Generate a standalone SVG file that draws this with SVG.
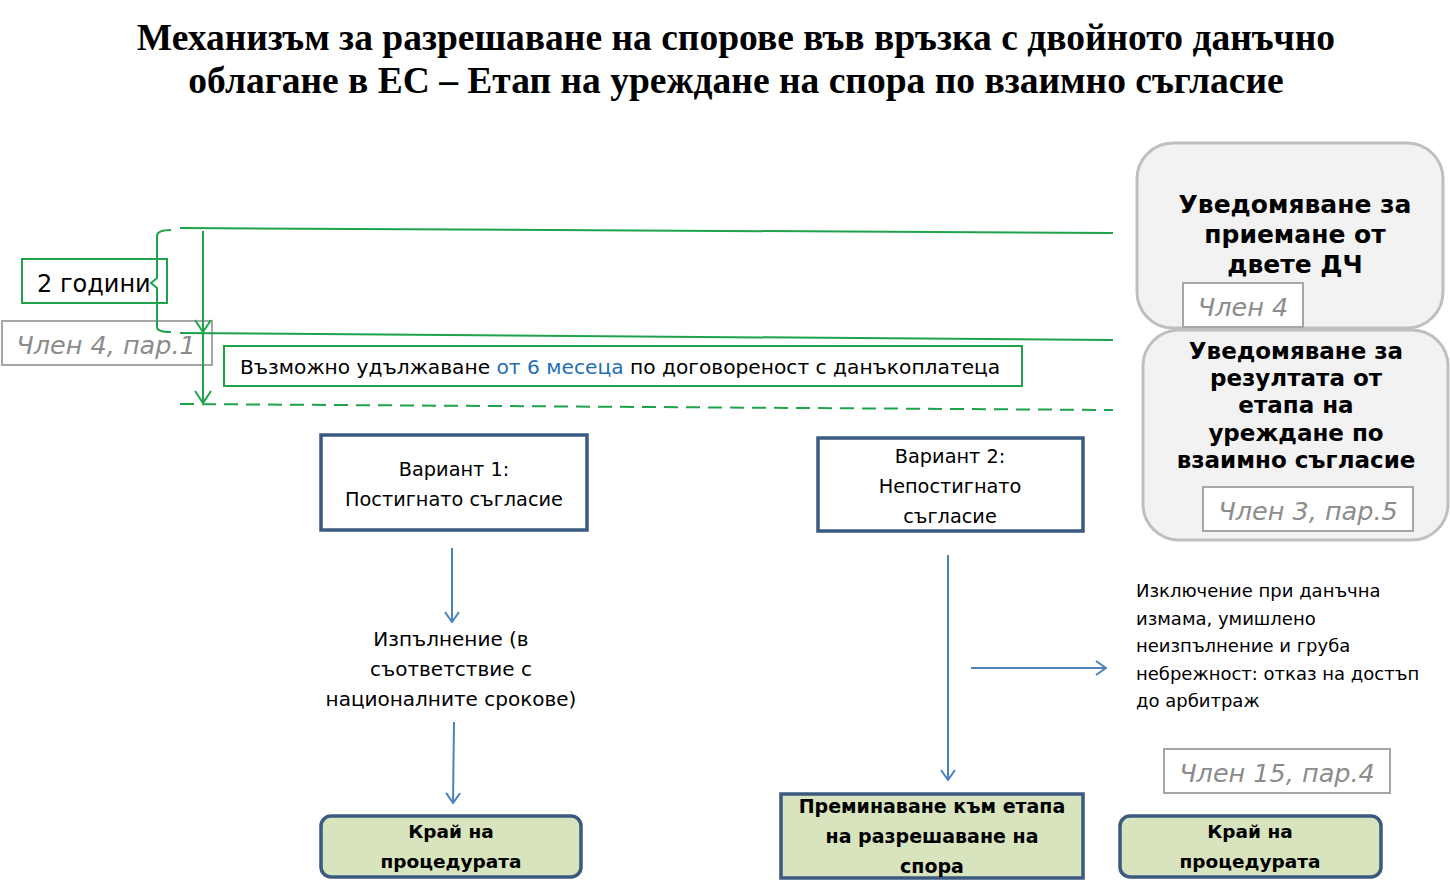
<svg xmlns="http://www.w3.org/2000/svg" width="1450" height="896" viewBox="0 0 1450 896">
<defs>
<style>
.title{font-family:"Liberation Serif","Times New Roman",serif;font-weight:bold;font-size:37.5px;fill:#000;text-anchor:middle}
.t{font-family:"DejaVu Sans",Verdana,sans-serif;fill:#000}
.ref{font-family:"DejaVu Sans",Verdana,sans-serif;font-style:italic;fill:#8c8c8c;font-size:25.5px;text-anchor:middle}
.refbox{fill:#fff;stroke:#a6a6a6;stroke-width:2}
.gbox{fill:#fff;stroke:#1ea34a;stroke-width:2}
.gline{stroke:#1ea34a;stroke-width:2;fill:none}
.grey{fill:#f2f2f2;stroke:#bfbfbf;stroke-width:3}
.var{fill:#fff;stroke:#3a5a80;stroke-width:3.5}
.end{fill:#d7e4bd;stroke:#3a5a80;stroke-width:3.5}
.conn{stroke:#4f81bd;stroke-width:2;fill:none}
.c{text-anchor:middle}
.b{font-weight:bold}
</style>
<marker id="ah" viewBox="0 0 12 16" refX="11" refY="8" markerWidth="12" markerHeight="16" markerUnits="userSpaceOnUse" orient="auto">
<path d="M1,1 L11,8 L1,15" fill="none" stroke="#4f81bd" stroke-width="2"/>
</marker>
<marker id="gh" viewBox="0 0 14 18" refX="13" refY="9" markerWidth="14" markerHeight="18" markerUnits="userSpaceOnUse" orient="auto">
<path d="M1,1 L13,9 L1,17" fill="none" stroke="#1ea34a" stroke-width="2"/>
</marker>
</defs>
<rect width="1450" height="896" fill="#fff"/>

<g id="title">
<text class="title" x="736" y="50">Механизъм за разрешаване на спорове във връзка с двойното данъчно</text>
<text class="title" x="736" y="93">облагане в ЕС – Етап на уреждане на спора по взаимно съгласие</text>
</g>

<g id="two-years">
<rect class="gbox" x="22" y="259" width="145" height="44"/>
<text class="t" x="37" y="292" font-size="24">2 години</text>
</g>

<g id="ref-art4-par1">
<rect class="refbox" x="2" y="321" width="210" height="44"/>
<text class="ref" x="106" y="354">Член 4, пар.1</text>
</g>

<g id="extension">
<rect class="gbox" x="224" y="346" width="798" height="40"/>
<text class="t" x="240" y="374" font-size="20.2">Възможно удължаване <tspan fill="#1f6fb5">от 6 месеца</tspan> по договореност с данъкоплатеца</text>
</g>

<g id="timeline">
<line class="gline" x1="180" y1="228" x2="1113" y2="233"/>
<line class="gline" x1="180" y1="333" x2="1113" y2="340"/>
<line class="gline" x1="180" y1="404" x2="1113" y2="410" stroke-dasharray="14,8"/>
<path class="gline" d="M171,230 Q157,230 157,236 L157,278 L151,283 L157,288 L157,327 Q157,332 171,332"/>
<line class="gline" x1="203" y1="231" x2="203" y2="332" marker-end="url(#gh)"/>
<line class="gline" x1="203" y1="332" x2="203" y2="403" marker-end="url(#gh)"/>
</g>

<g id="notify-accept">
<rect class="grey" x="1137" y="143" width="306" height="185" rx="36"/>
<text class="t b c" font-size="25" x="1295" y="213">Уведомяване за</text>
<text class="t b c" font-size="25" x="1295" y="243">приемане от</text>
<text class="t b c" font-size="25" x="1295" y="273">двете ДЧ</text>
<rect class="refbox" x="1183" y="283" width="120" height="44"/>
<text class="ref" x="1243" y="316">Член 4</text>
</g>

<g id="notify-result">
<rect class="grey" x="1143" y="330" width="305" height="210" rx="36"/>
<text class="t b c" font-size="23" x="1296" y="359">Уведомяване за</text>
<text class="t b c" font-size="23" x="1296" y="386">резултата от</text>
<text class="t b c" font-size="23" x="1296" y="413">етапа на</text>
<text class="t b c" font-size="23" x="1296" y="441">уреждане по</text>
<text class="t b c" font-size="23" x="1296" y="468">взаимно съгласие</text>
<rect class="refbox" x="1203" y="487" width="210" height="44"/>
<text class="ref" x="1308" y="520">Член 3, пар.5</text>
</g>

<g id="variant1">
<rect class="var" x="321" y="435" width="266" height="95"/>
<text class="t c" font-size="19.3" x="454" y="476">Вариант 1:</text>
<text class="t c" font-size="19.3" x="454" y="506">Постигнато съгласие</text>
</g>

<g id="variant2">
<rect class="var" x="818" y="438" width="265" height="93"/>
<text class="t c" font-size="19.3" x="950" y="463">Вариант 2:</text>
<text class="t c" font-size="19.3" x="950" y="493">Непостигнато</text>
<text class="t c" font-size="19.3" x="950" y="523">съгласие</text>
</g>

<g id="execution">
<text class="t c" font-size="20" x="451" y="646">Изпълнение (в</text>
<text class="t c" font-size="20" x="451" y="676">съответствие с</text>
<text class="t c" font-size="20" x="451" y="706">националните срокове)</text>
</g>

<g id="end1">
<rect class="end" x="321" y="816" width="260" height="61" rx="10"/>
<text class="t b c" font-size="18.5" x="451" y="838">Край на</text>
<text class="t b c" font-size="18.5" x="451" y="868">процедурата</text>
</g>

<g id="to-arbitration">
<rect class="end" x="781" y="794" width="302" height="84"/>
<text class="t b c" font-size="19" x="932" y="813">Преминаване към етапа</text>
<text class="t b c" font-size="19" x="932" y="843">на разрешаване на</text>
<text class="t b c" font-size="19" x="932" y="873">спора</text>
</g>

<g id="exception">
<text class="t" font-size="18" x="1136" y="597">Изключение при данъчна</text>
<text class="t" font-size="18" x="1136" y="625">измама, умишлено</text>
<text class="t" font-size="18" x="1136" y="652">неизпълнение  и груба</text>
<text class="t" font-size="18" x="1136" y="680">небрежност: отказ на достъп</text>
<text class="t" font-size="18" x="1136" y="707">до арбитраж</text>
</g>

<g id="ref-art15-par4">
<rect class="refbox" x="1164" y="749" width="226" height="44"/>
<text class="ref" x="1277" y="782">Член 15, пар.4</text>
</g>

<g id="end2">
<rect class="end" x="1120" y="816" width="261" height="61" rx="10"/>
<text class="t b c" font-size="18.5" x="1250" y="838">Край на</text>
<text class="t b c" font-size="18.5" x="1250" y="868">процедурата</text>
</g>

<g id="connectors">
<line class="conn" x1="452" y1="548" x2="452" y2="622" marker-end="url(#ah)"/>
<line class="conn" x1="454" y1="722" x2="453" y2="803" marker-end="url(#ah)"/>
<line class="conn" x1="948" y1="555" x2="948" y2="780" marker-end="url(#ah)"/>
<line class="conn" x1="971" y1="668" x2="1106" y2="668" marker-end="url(#ah)"/>
</g>
</svg>
